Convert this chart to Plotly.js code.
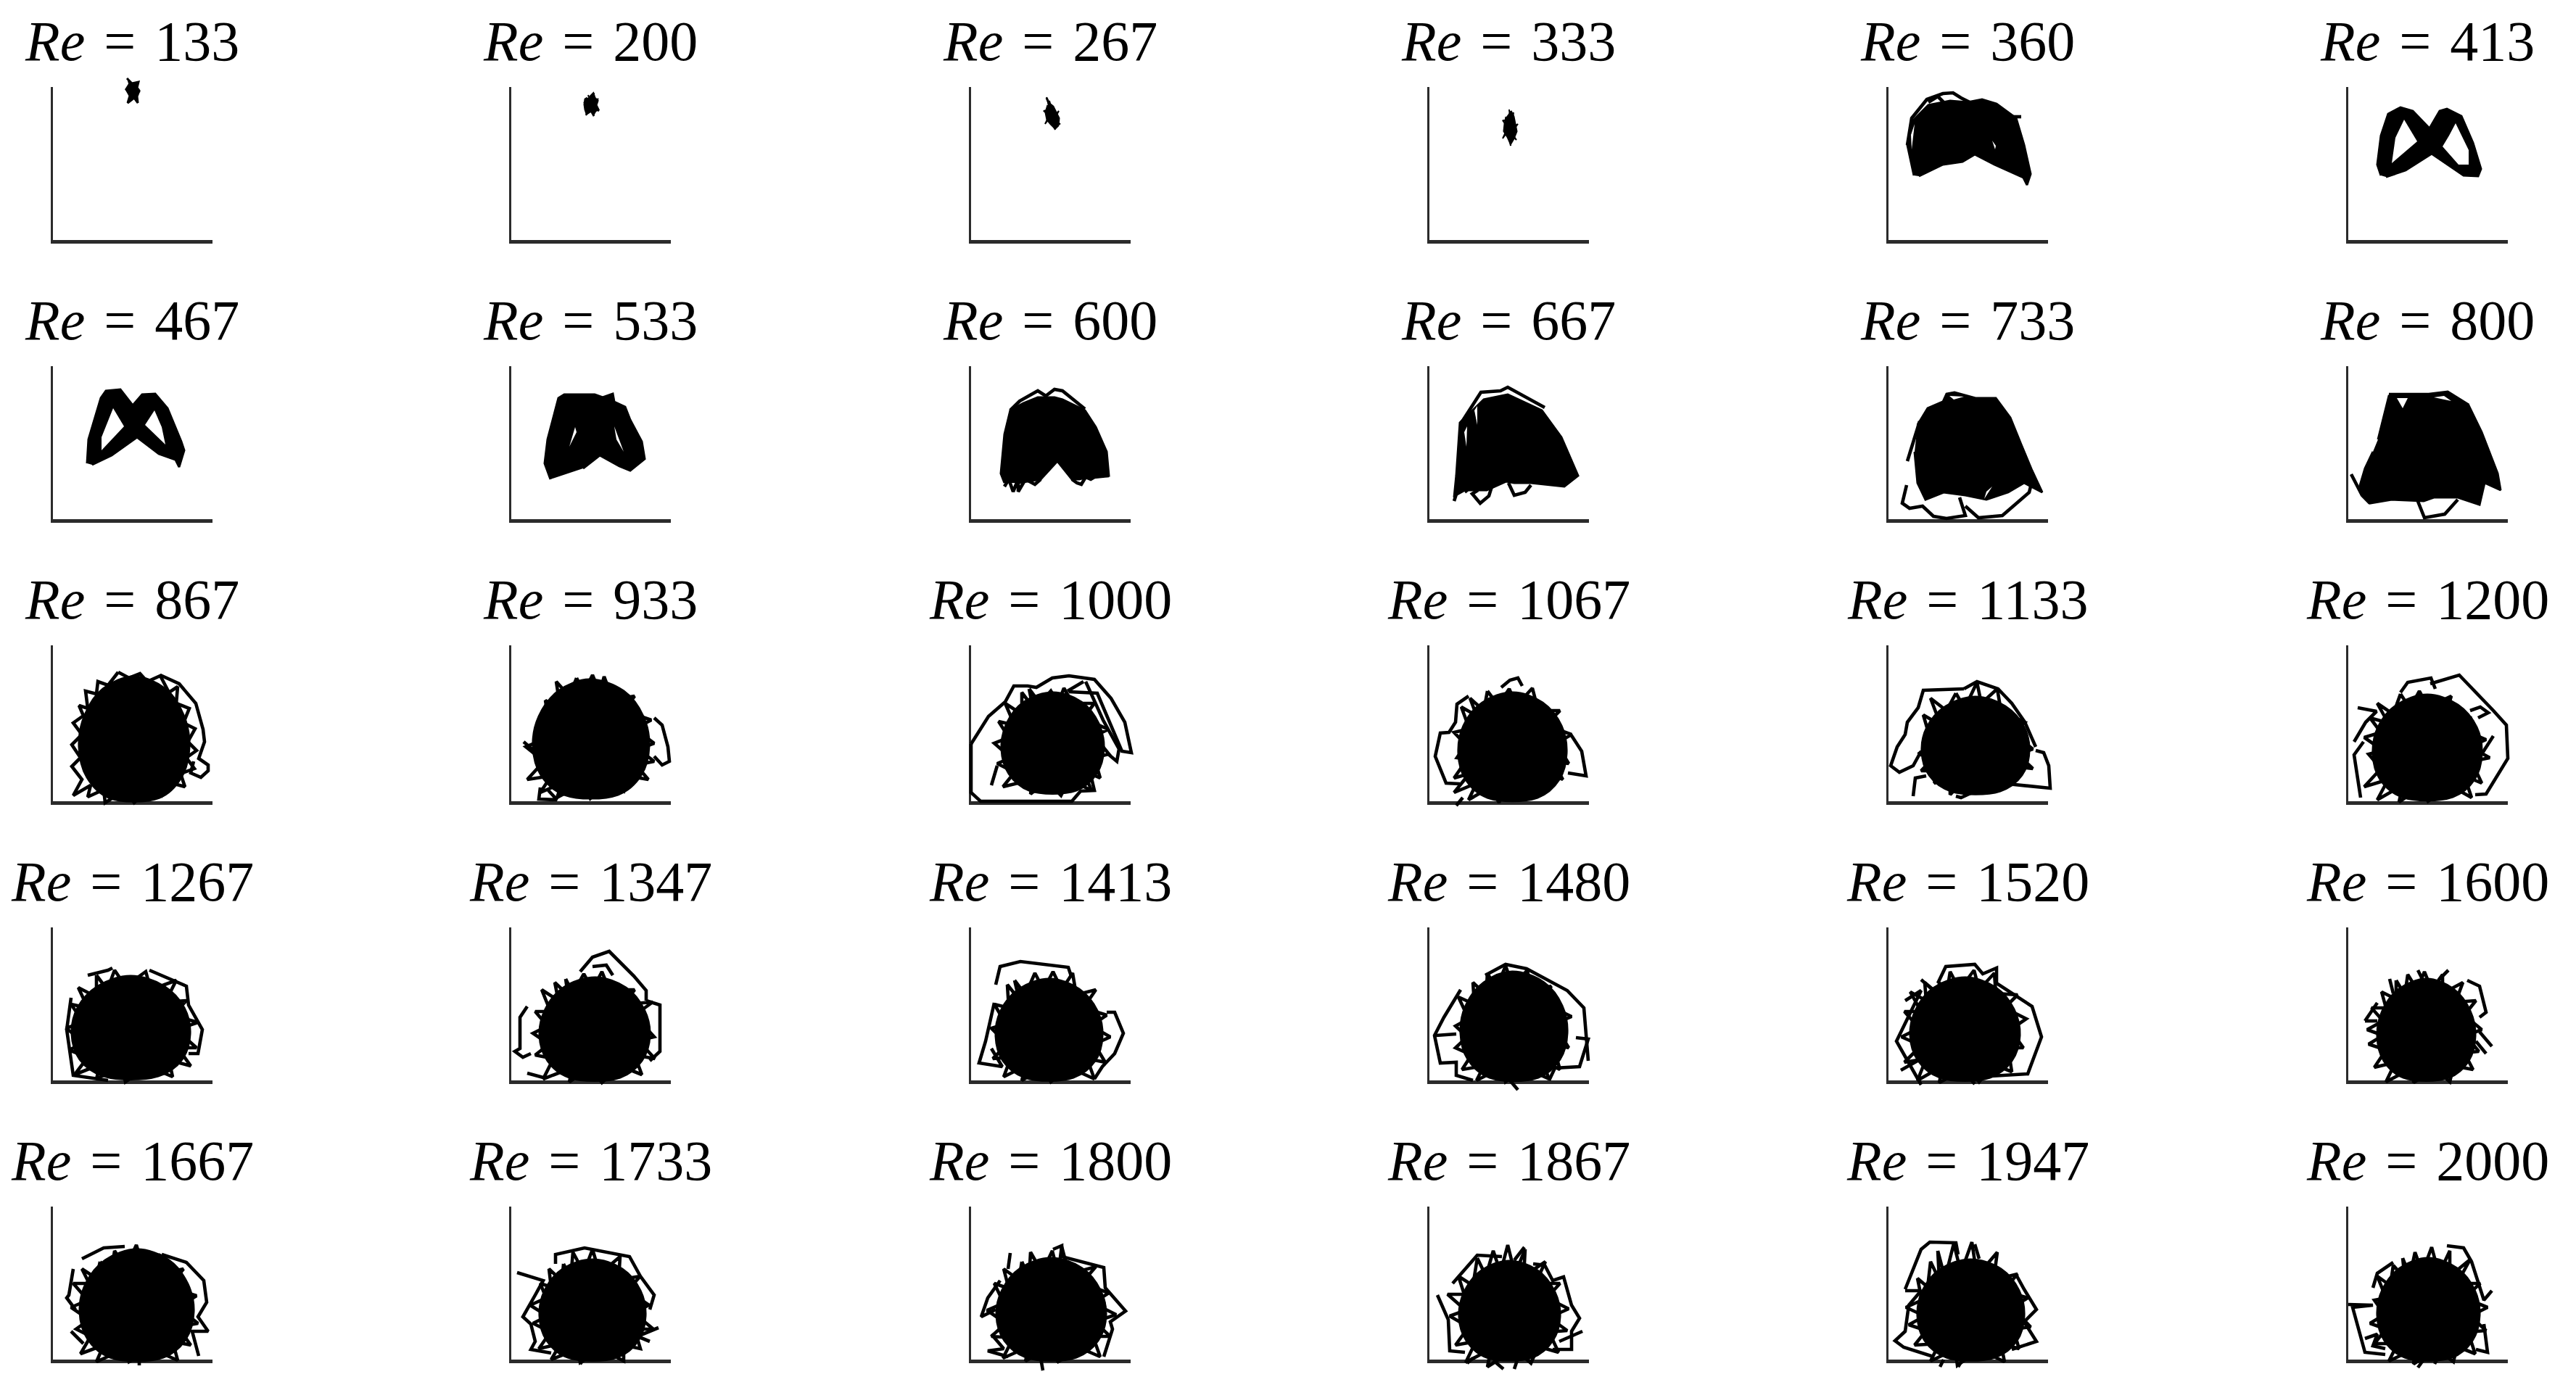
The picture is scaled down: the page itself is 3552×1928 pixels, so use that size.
<!DOCTYPE html>
<html>
<head>
<meta charset="utf-8">
<script src="https://cdn.plot.ly/plotly-3.0.1.min.js"></script>
<style>
html, body { margin: 0; padding: 0; background: #fff; }
#plot { width: 3552px; height: 1928px; }
</style>
</head>
<body>
<div id="plot"></div>
<script>
const reValues = [
    133, 200, 267, 333, 360, 413,
    467, 533, 600, 667, 733, 800,
    867, 933, 1000, 1067, 1133, 1200,
    1267, 1347, 1413, 1480, 1520, 1600,
    1667, 1733, 1800, 1867, 1947, 2000
]

// trajectories, as [x, y] in axis units, null = pen up
const core133 = [[102,223],[109,216],[118,218],[116,210],[119,206],[116,198],[117,189],[112,196],[103,189],[106,199],[101,208],[106,216]]
const core200 = [[108,197],[113,202],[115,196],[119,192],[117,186],[120,180],[116,178],[113,173],[110,178],[104,174],[102,180],[101,187],[102,194],[105,196]]
const core267 = [[104,196],[108,188],[113,184],[117,176],[121,168],[120,158],[116,154],[110,160],[105,166],[103,176],[106,186]]
const core333 = [[112,178],[116,170],[118,160],[120,150],[116,140],[112,133],[108,142],[103,150],[104,160],[106,170]]
const core360 = [[35,89],[26,131],[34,165],[55,186],[85,192],[109,190],[129,194],[149,188],[176,168],[187,131],[196,91],[191,76],[186,86],[146,104],[119,118],[102,108],[75,104],[42,88]]
const core413 = [[45,89],[40,104],[45,144],[55,174],[72,183],[89,178],[112,154],[126,178],[136,181],[156,171],[172,134],[183,98],[179,88],[159,89],[115,119],[79,96],[52,87]]
const core467 = [[47,77],[49,110],[66,167],[73,177],[93,179],[110,157],[123,172],[141,173],[158,153],[177,107],[181,95],[174,72],[169,82],[146,90],[116,113],[81,88],[54,75]]
const core533 = [[54,55],[46,77],[50,110],[65,167],[73,172],[96,172],[115,172],[126,168],[140,173],[142,162],[157,155],[164,137],[180,107],[184,83],[164,67],[149,73],[122,88],[99,70]]
const core600 = [[46,50],[41,63],[46,117],[54,150],[72,160],[92,168],[115,168],[126,165],[157,150],[172,127],[187,93],[190,60],[161,58],[149,55],[139,55],[119,80],[96,55],[65,50]]
const core667 = [[34,30],[37,60],[42,133],[75,165],[108,172],[155,150],[182,113],[205,60],[186,45],[140,50],[117,50],[106,52],[79,40],[52,40]]
const core733 = [[40,130],[54,153],[75,162],[80,173],[91,175],[120,167],[148,167],[168,140],[183,103],[198,67],[212,37],[187,50],[165,37],[135,27],[106,33],[76,37],[51,27],[40,50],[36,93]]
const core800 = [[41,110],[56,170],[111,172],[137,175],[166,157],[184,120],[206,63],[210,40],[188,50],[181,20],[151,30],[118,30],[104,25],[60,27],[30,22],[15,43],[23,70],[34,93]]
const core867 = [[112,172],[69,155],[44,119],[36,75],[47,33],[77,5],[147,5],[177,33],[188,75],[180,119],[155,155],[112,172]]
const core933 = [[108,168],[65,152],[38,117],[30,76],[41,36],[73,9],[147,9],[179,36],[190,76],[182,117],[155,152],[108,168]]
const core1000 = [[113,150],[73,137],[49,107],[42,72],[52,38],[80,15],[145,15],[173,38],[183,72],[176,107],[152,137],[113,150]]
const core1067 = [[115,150],[73,136],[47,104],[40,66],[50,30],[80,5],[149,5],[179,30],[189,66],[182,104],[156,136],[115,150]]
const core1133 = [[120,144],[79,131],[53,102],[46,69],[56,36],[86,14],[154,14],[184,36],[194,69],[187,102],[161,131],[120,144]]
const core1200 = [[109,147],[67,133],[41,102],[34,65],[44,30],[74,6],[144,6],[174,30],[184,65],[177,102],[151,133],[109,147]]
const core1267 = [[107,144],[62,130],[34,100],[26,64],[37,29],[70,6],[145,6],[178,29],[189,64],[181,100],[153,130],[107,144]]
const core1347 = [[116,142],[72,128],[47,98],[39,62],[50,27],[80,4],[150,4],[180,27],[191,62],[183,98],[158,128],[116,142]]
const core1413 = [[108,140],[66,126],[41,96],[34,61],[44,27],[74,4],[141,4],[171,27],[181,61],[174,96],[149,126],[108,140]]
const core1480 = [[114,150],[75,135],[50,103],[43,65],[53,29],[83,4],[150,4],[180,29],[190,65],[183,103],[158,135],[114,150]]
const core1520 = [[106,142],[63,128],[38,98],[30,62],[41,27],[71,4],[140,4],[170,27],[181,62],[173,98],[148,128],[106,142]]
const core1600 = [[108,140],[70,126],[47,96],[40,61],[49,27],[76,4],[139,4],[166,27],[175,61],[168,96],[145,126],[108,140]]
const core1667 = [[116,152],[72,137],[45,104],[37,66],[48,28],[79,3],[152,3],[183,28],[194,66],[186,104],[160,137],[116,152]]
const core1733 = [[112,138],[71,125],[46,95],[39,60],[49,26],[78,3],[146,3],[175,26],[185,60],[178,95],[153,125],[112,138]]
const core1800 = [[110,140],[68,126],[43,96],[35,61],[46,26],[76,3],[145,3],[175,26],[186,61],[178,96],[153,126],[110,140]]
const core1867 = [[110,136],[72,123],[48,93],[41,59],[51,26],[79,3],[142,3],[170,26],[180,59],[173,93],[149,123],[110,136]]
const core1947 = [[113,138],[72,125],[47,95],[40,60],[50,26],[80,3],[147,3],[177,26],[187,60],[180,95],[155,125],[113,138]]
const core2000 = [[110,140],[71,126],[47,96],[40,61],[50,26],[78,3],[143,3],[171,26],[181,61],[174,96],[150,126],[110,140]]

// white gaps left inside the dark bands
const hole360 = [[[31,145],[36,160],[32,125]],[[143,137],[148,130],[147,125]]]
const hole413 = [[[77,166],[95,136],[60,106],[65,141]],[[148,161],[166,124],[166,104],[152,104],[130,129],[139,144]]]
const hole467 = [[[83,153],[98,128],[67,95],[67,113]],[[140,150],[150,127],[155,103],[127,130]]]
const hole533 = [[[88,127],[90,120],[80,100]],[[142,128],[155,93],[145,110]]]
const hole667 = [[[62,150],[66,156],[66,130]],[[48,120],[52,128],[51,100]]]
const hole733 = [[[84,170],[104,169],[90,165]],[[135,38],[143,45],[132,28]]]
const hole800 = [[[67,167],[82,167],[75,153]],[[118,168],[132,170],[142,163]]]

// outlying loops
const line360 = [[26,131],[32,168],[53,194],[75,202],[89,203],[100,196],[112,190],null,[55,190],[68,198],[78,188],null,[170,170],[183,170]]
const line600 = [[54,150],[67,163],[92,177],[103,170],[115,179],[126,177],[157,152],null,[46,45],[52,55],[58,38],[65,55],[65,38],[75,55],[88,48],[96,55],null,[139,55],[146,50],[152,48],[158,58],[165,55],[170,58],[190,60]]
const line667 = [[67,40],[59,35],[70,22],[82,32],[86,45],null,[109,50],[117,33],[132,37],[140,47],null,[44,133],[71,175],[98,177],[108,182],[159,154],null,[34,25],[42,50],[52,37]]
const line733 = [[25,47],[19,22],[29,15],[47,18],[62,4],[80,1],[106,5],[98,30],null,[106,18],[124,2],[157,5],[194,37],[198,53],null,[26,80],[36,113],[43,135]]
const line800 = [[4,62],[19,33],[30,22],null,[95,27],[105,2],[133,7],[151,27],null,[56,172],[80,172],[111,172],[137,175],[166,157]]
const line867 = [[148,174],[174,162],[197,135],[207,99],[209,82],[201,59],[214,50],[214,42],[204,33],[190,39],[194,55]]
const line933 = [[197,115],[208,105],[216,75],[218,55],[208,50],[197,62],null,[17,82],[32,69],null,[40,19],[38,3],[63,2],[51,15]]
const line1000 = [[0,79],[24,117],[47,137],[59,159],[78,159],[90,157],[112,170],[135,173],[170,168],[193,142],[212,109],[221,67],[208,69],[185,125],[174,149],[135,151],null,[155,165],[133,152],null,[158,165],[182,112],[204,72],[201,55],[189,65],null,[0,79],[0,12],[13,0],[139,0],[151,14],[170,15],[166,32],null,[28,22],[36,49]]
const line1067 = [[99,157],[111,167],[122,170],[128,159],null,[54,145],[38,134],[36,109],[27,95],[15,94],[8,62],[23,25],[42,24],null,[195,92],[210,69],[216,35],[191,39],null,[37,-6],[46,5]]
const line1133 = [[104,155],[48,153],[41,129],[26,109],[23,92],[12,75],[3,49],[15,40],[34,49],[45,69],null,[104,155],[122,165],[151,155],[170,135],[188,109],[203,75],null,[203,70],[214,67],[221,49],[223,18],[164,24],null,[34,7],[37,32],[52,35],null,[93,7],[100,5],[137,22]]
const line1200 = [[72,150],[82,164],[114,170],[120,155],null,[113,162],[153,174],[200,125],[218,105],[220,59],[190,10],[175,9],null,[13,129],[39,124],[24,109],[8,82],null,[21,82],[8,64],[17,5],null,[168,125],[182,130],[193,122],[179,115],null,[200,90],[182,62]]
const line1267 = [[133,152],[184,130],[187,104],[206,70],[200,37],[187,37],null,[25,114],[19,70],[28,7],[76,0],null,[48,145],[76,152],[82,155]]
const line1347 = [[95,150],[112,170],[135,178],[169,144],[186,124],[186,110],null,[112,157],[131,159],[140,145],null,[186,110],[205,104],[205,40],[191,27],null,[22,102],[12,87],[12,44],[5,40],[16,32],[27,37],null,[22,10],[44,4]]
const line1413 = [[34,132],[40,157],[68,164],[134,156],[138,144],null,[32,107],[20,54],[11,24],[43,19],[28,44],null,[187,94],[198,94],[210,65],[198,37],[181,19],[170,2]]
const line1480 = [[77,145],[105,160],[134,154],[190,124],[213,100],[219,27],null,[43,125],[20,87],[7,62],[15,24],[37,25],[37,7],[60,0],null,[9,62],[37,64],null,[202,59],[219,57],[207,19],[173,17],[165,0],null,[111,0],[122,-13]]
const line1520 = [[68,134],[79,157],[119,160],[130,147],[149,155],[149,134],[198,102],[211,60],[192,9],[125,5],null,[45,139],[62,124],null,[23,110],[45,124],[11,54],[45,-6],null,[17,14],[40,27],null,[119,-5],[108,7]]
const line1600 = [[57,140],[62,120],null,[96,152],[102,140],null,[138,152],[125,139],null,[164,138],[181,130],[190,94],[181,87],null,[23,82],[40,107],null,[23,82],[40,82],null,[198,47],[181,67],null,[190,37],[176,54]]
const line1667 = [[28,125],[22,89],[19,85],[31,69],null,[40,139],[70,154],[99,156],null,[150,145],[184,134],[208,109],[212,79],[200,59],[214,39],[192,39],[201,5],null,[25,39],[42,22],null,[119,-8],[119,2]]
const line1733 = [[61,132],[61,145],[101,154],[163,142],[178,115],[197,89],[191,69],null,[8,120],[44,109],[33,89],[16,59],[27,49],[33,25],[27,14],[55,9],null,[203,44],[174,32],[191,25],null,[95,-6],[101,2]]
const line1800 = [[54,147],[51,125],null,[113,152],[125,157],[125,142],[183,127],[185,99],[213,67],[192,52],[195,42],[183,4],null,[40,109],[23,85],[14,59],[34,69],null,[28,35],[45,15],[23,12],[51,4],null,[99,-15],[96,2]]
const line1867 = [[131,155],[117,137],null,[32,105],[66,144],[100,142],null,[143,132],[159,130],[170,109],[185,114],[196,75],[207,57],[196,39],[196,14],[170,14],null,[211,39],[179,25],null,[11,89],[26,55],[28,12],[49,10],null,[117,-13],[122,2],null,[88,-1],[102,-13],null,[52,-5],[60,2]]
const line1947 = [[23,97],[45,152],[57,162],[93,161],[96,145],null,[119,159],[125,139],null,[23,95],[45,95],[28,75],[23,39],[9,26],[21,17],[62,4],null,[176,117],[187,97],[204,69],[187,52],[204,25],[170,14],null,[71,-10],[76,0],null,[96,-10],[102,0]]
const line2000 = [[0,76],[34,75],[6,72],[23,10],[51,7],null,[23,29],[40,35],[34,19],[51,15],null,[136,157],[159,154],[170,135],[187,82],[198,95],null,[34,99],[40,119],[62,134],null,[96,-11],[104,0],null,[119,-6],[122,0],null,[187,49],[192,10],[176,14]]

// scribble round the edge of each dark patch
const fuzz133 = [[103,223],[108,205],[117,218],[110,205],[120,205],[110,200],[117,189],[110,198],[103,189],[108,200],[100,208],[108,208]]
const fuzz200 = [[106,200],[110,187],[114,203],[112,190],[120,195],[112,185],[121,178],[112,182],[114,171],[109,182],[103,172],[107,185],[100,190],[108,190]]
const fuzz267 = [[104,197],[110,175],[108,192],[114,170],[121,178],[114,165],[123,160],[112,160],[116,152],[108,168],[102,160],[108,172],[100,178],[108,180]]
const fuzz333 = [[110,180],[112,160],[116,176],[113,155],[122,160],[113,148],[120,138],[112,146],[112,130],[108,150],[101,140],[108,155],[101,165],[108,165]]
const fuzz867 = [[90,178],[105,170],[120,176],[130,165],[148,173],[160,150],[172,158],[170,135],[188,128],[180,108],[196,100],[186,82],[198,70],[184,60],[195,45],[176,38],[182,20],[160,26],[150,8],[136,22],[112,-2],[100,16],[72,-2],[70,16],[48,6],[52,22],[28,8],[40,30],[26,48],[38,60],[26,78],[40,92],[28,108],[42,118],[36,132],[48,128],[45,152],[60,148],[62,165],[76,160],[90,178]]
const fuzz933 = [[90,170],[100,150],[112,174],[122,150],[128,172],[140,140],[170,145],[155,125],[193,112],[170,100],[197,80],[175,72],[197,55],[172,50],[189,30],[160,35],[155,14],[135,28],[109,4],[100,25],[63,5],[70,25],[40,12],[55,35],[22,30],[45,55],[20,75],[44,85],[36,105],[52,108],[47,139],[68,125],[62,165],[80,145],[90,170]]
const fuzz1000 = [[80,155],[95,135],[110,152],[120,135],[128,156],[140,135],[170,135],[155,115],[189,99],[170,90],[190,65],[170,60],[178,32],[155,42],[166,15],[135,30],[124,8],[105,28],[82,10],[85,30],[44,20],[60,40],[36,52],[55,60],[32,80],[52,88],[38,110],[60,105],[47,135],[70,120],[70,150],[85,130],[80,155]]
const fuzz1067 = [[80,152],[95,132],[110,155],[120,132],[142,156],[150,125],[180,125],[160,105],[196,92],[175,80],[192,52],[170,55],[184,30],[160,40],[161,18],[135,25],[126,8],[105,22],[96,-2],[85,20],[54,2],[65,25],[34,12],[55,38],[34,32],[52,58],[38,60],[50,78],[34,95],[55,100],[44,130],[65,118],[56,142],[75,125],[80,152]]
const fuzz1133 = [[93,149],[105,128],[122,164],[128,135],[150,155],[155,125],[188,109],[170,95],[199,72],[178,65],[199,45],[175,48],[166,25],[150,35],[122,17],[110,35],[85,9],[85,30],[63,25],[70,42],[45,42],[62,60],[41,65],[60,78],[48,119],[72,105],[58,142],[80,125],[93,149]]
const fuzz1200 = [[72,148],[85,128],[98,152],[110,130],[142,145],[135,120],[170,115],[155,100],[190,85],[168,75],[195,60],[170,55],[184,25],[160,35],[170,5],[140,22],[110,0],[100,20],[70,-1],[75,22],[40,2],[55,30],[22,20],[45,45],[28,65],[48,70],[22,88],[45,95],[30,115],[55,108],[40,135],[62,120],[72,148]]
const fuzz1267 = [[60,145],[75,125],[85,152],[100,130],[128,150],[135,125],[170,138],[155,108],[184,110],[165,90],[200,80],[170,70],[198,45],[172,45],[190,20],[160,28],[165,5],[130,20],[100,-2],[95,20],[60,2],[65,22],[30,8],[48,32],[22,42],[44,52],[18,72],[42,80],[25,105],[48,100],[35,128],[60,115],[60,145]]
const fuzz1347 = [[75,140],[85,120],[100,147],[112,125],[125,150],[135,125],[170,125],[155,105],[195,108],[170,90],[197,60],[175,55],[198,30],[170,35],[180,8],[150,20],[125,-3],[110,18],[80,-2],[85,18],[44,2],[58,30],[33,35],[52,50],[30,65],[50,75],[33,95],[54,95],[42,125],[65,110],[60,135],[78,118],[75,140]]
const fuzz1413 = [[60,138],[75,118],[88,148],[100,125],[113,150],[125,125],[140,148],[145,118],[172,125],[155,100],[187,90],[165,75],[192,60],[170,50],[185,25],[160,30],[170,2],[135,18],[110,-2],[100,18],[70,0],[75,20],[45,5],[55,32],[30,30],[50,50],[28,72],[48,78],[32,105],[52,100],[50,132],[66,112],[60,138]]
const fuzz1480 = [[80,148],[92,126],[105,158],[115,130],[135,152],[140,122],[168,130],[155,108],[196,88],[172,78],[192,45],[170,50],[180,15],[155,28],[165,2],[130,18],[105,-2],[100,18],[65,0],[75,20],[45,15],[58,35],[36,45],[52,60],[36,75],[54,85],[40,115],[62,105],[60,135],[78,118],[80,148]]
const fuzz1520 = [[70,135],[80,118],[85,150],[98,125],[118,152],[125,125],[146,148],[148,120],[178,118],[160,100],[190,85],[168,70],[186,45],[165,45],[170,12],[145,22],[125,-2],[110,18],[70,-3],[75,20],[40,0],[52,30],[22,25],[45,48],[18,60],[42,72],[22,95],[45,95],[30,122],[52,110],[50,135],[70,118],[70,135]]
const fuzz1600 = [[66,138],[78,118],[82,146],[95,125],[105,150],[115,125],[130,146],[130,120],[158,135],[148,108],[176,110],[160,90],[184,70],[162,62],[180,40],[160,38],[172,15],[145,20],[140,-2],[120,16],[90,-3],[90,18],[52,-2],[65,25],[36,18],[52,42],[28,50],[48,62],[26,70],[48,82],[32,100],[52,100],[46,122],[66,112],[66,138]]
const fuzz1667 = [[65,135],[80,118],[85,150],[100,125],[115,158],[125,125],[148,145],[148,118],[180,125],[160,100],[198,88],[172,72],[200,50],[172,45],[190,20],[165,25],[172,-1],[135,15],[105,-3],[100,15],[60,-3],[70,20],[38,8],[52,32],[32,42],[50,55],[25,72],[48,82],[28,105],[50,105],[40,125],[60,112],[65,135]]
const fuzz1733 = [[72,132],[82,112],[85,148],[100,120],[112,152],[122,118],[150,142],[148,110],[178,115],[160,95],[190,75],[168,65],[196,42],[170,42],[178,15],[155,20],[155,-2],[125,14],[95,-4],[92,15],[55,0],[68,22],[38,15],[54,38],[30,50],[50,60],[26,75],[48,85],[40,105],[55,100],[52,125],[70,108],[72,132]]
const fuzz1800 = [[70,135],[80,112],[82,148],[98,120],[112,150],[120,118],[125,156],[135,118],[172,128],[152,105],[190,92],[168,78],[200,62],[170,52],[192,32],[168,32],[178,4],[150,16],[120,-3],[105,15],[75,-2],[80,18],[44,2],[58,30],[28,32],[48,50],[22,68],[45,78],[32,105],[52,98],[45,125],[66,110],[70,135]]
const fuzz1867 = [[66,140],[78,115],[88,150],[98,120],[108,158],[118,118],[132,152],[130,115],[160,135],[146,105],[180,105],[162,85],[192,70],[165,58],[190,40],[165,38],[178,10],[150,18],[140,-5],[118,14],[80,-10],[85,15],[50,-4],[64,25],[36,20],[54,45],[28,60],[50,68],[25,90],[48,90],[40,115],[60,102],[66,140]]
const fuzz1947 = [[68,150],[78,112],[90,160],[100,120],[115,162],[122,115],[150,148],[145,110],[178,118],[158,95],[192,85],[170,72],[196,45],[172,42],[180,15],[155,22],[160,-3],[125,14],[95,-8],[92,14],[58,-2],[70,22],[36,20],[52,40],[28,48],[50,60],[24,72],[46,82],[40,112],[54,100],[58,135],[70,110],[68,150]]
const fuzz2000 = [[75,140],[85,115],[92,148],[102,120],[115,155],[125,118],[140,150],[140,115],[168,138],[150,105],[182,105],[160,85],[192,72],[168,60],[190,40],[165,38],[175,8],[150,18],[145,-3],[122,14],[90,-6],[92,15],[56,-2],[68,22],[36,22],[52,42],[30,50],[50,62],[36,82],[52,85],[40,115],[58,102],[62,130],[78,112],[75,140]]

const cores = [
    core133, core200, core267, core333, core360, core413,
    core467, core533, core600, core667, core733, core800,
    core867, core933, core1000, core1067, core1133, core1200,
    core1267, core1347, core1413, core1480, core1520, core1600,
    core1667, core1733, core1800, core1867, core1947, core2000
]
const strands = [
    [], [], [], [], line360, [],
    [], [], line600, line667, line733, line800,
    line867, line933, line1000, line1067, line1133, line1200,
    line1267, line1347, line1413, line1480, line1520, line1600,
    line1667, line1733, line1800, line1867, line1947, line2000
]
const fuzz = [
    fuzz133, fuzz200, fuzz267, fuzz333, [], [],
    [], [], [], [], [], [],
    fuzz867, fuzz933, fuzz1000, fuzz1067, fuzz1133, fuzz1200,
    fuzz1267, fuzz1347, fuzz1413, fuzz1480, fuzz1520, fuzz1600,
    fuzz1667, fuzz1733, fuzz1800, fuzz1867, fuzz1947, fuzz2000
]
const holes = { 360: hole360, 413: hole413, 467: hole467, 533: hole533, 667: hole667, 733: hole733, 800: hole800 }

// panel positions in page pixels
const W = 3552
const H = 1928
const colLeft = [73, 705, 1339, 1971, 2604, 3238]
const rowTop = [120, 505, 890, 1279, 1664]
const rowBottom = [331, 716, 1105, 1490, 1875]
const titleBase = [83, 468, 853, 1242, 1627]
const axisWidth = 220
const axisColor = '#2b2b2b'
// the drawn lines are clipped to a subplot, so the curves sit on a larger invisible one
const pad = 40

function xs(pts) { return pts.map(function (p) { return p ? p[0] : null }) }
function ys(pts) { return pts.map(function (p) { return p ? p[1] : null }) }

const data = []
const layout = {
    width: W,
    height: H,
    margin: { l: 0, r: 0, t: 0, b: 0 },
    paper_bgcolor: '#fff',
    plot_bgcolor: 'rgba(0,0,0,0)',
    showlegend: false,
    annotations: []
}

reValues.forEach(function (re, i) {
    const col = i % 6
    const row = Math.floor(i / 6)
    const n = i + 1
    const m = n + 30
    const xa = 'x' + m
    const ya = 'y' + m
    const smooth = re >= 867

    // empty trace keeps the spine axes alive
    data.push({ x: [null], y: [null], xaxis: 'x' + n, yaxis: 'y' + n, mode: 'lines' })

    data.push({
        x: xs(cores[i]), y: ys(cores[i]), xaxis: xa, yaxis: ya,
        mode: 'lines', fill: 'toself', fillcolor: '#000',
        line: { color: '#000', width: 3, shape: smooth ? 'spline' : 'linear', smoothing: 1 }
    })
    ;(holes[re] || []).forEach(function (h) {
        data.push({
            x: xs(h), y: ys(h), xaxis: xa, yaxis: ya,
            mode: 'lines', fill: 'toself', fillcolor: '#fff',
            line: { width: 0 }
        })
    })
    if (fuzz[i].length) {
        data.push({
            x: xs(fuzz[i]), y: ys(fuzz[i]), xaxis: xa, yaxis: ya,
            mode: 'lines',
            line: { color: '#000', width: re < 360 ? 2 : 4.6 }
        })
    }
    if (strands[i].length) {
        data.push({
            x: xs(strands[i]), y: ys(strands[i]), xaxis: xa, yaxis: ya,
            mode: 'lines',
            line: { color: '#000', width: 4.6 }
        })
    }

    const left = colLeft[col]
    const h = rowBottom[row] - rowTop[row]

    // visible spines
    layout['xaxis' + n] = {
        domain: [left / W, (left + axisWidth) / W],
        range: [0, 220], anchor: 'y' + n,
        showgrid: false, zeroline: false, showticklabels: false, ticks: '',
        showline: true, linecolor: axisColor, linewidth: 5
    }
    layout['yaxis' + n] = {
        domain: [1 - rowBottom[row] / H, 1 - rowTop[row] / H],
        range: [0, h], anchor: 'x' + n,
        showgrid: false, zeroline: false, showticklabels: false, ticks: '',
        showline: true, linecolor: axisColor, linewidth: 3.5
    }
    // same scale as the spines, wider window
    layout['xaxis' + m] = {
        domain: [(left - pad) / W, (left + axisWidth + pad) / W],
        range: [-pad, 220 + pad], anchor: ya, visible: false
    }
    layout['yaxis' + m] = {
        domain: [1 - (rowBottom[row] + pad) / H, 1 - (rowTop[row] - pad) / H],
        range: [-pad, h + pad], anchor: xa, visible: false
    }
    layout.annotations.push({
        text: '<i>Re</i>\u2004=\u2004' + re,
        xref: 'paper', yref: 'paper',
        x: (left - 1 + axisWidth / 2) / W,
        y: 1 - (titleBase[row] + 18) / H,
        xanchor: 'center', yanchor: 'bottom',
        showarrow: false, borderpad: 0,
        font: { family: '"Liberation Serif", serif', size: 78, color: '#000' }
    })
})

Plotly.newPlot('plot', data, layout, { displayModeBar: false, staticPlot: true })
</script>
</body>
</html>
